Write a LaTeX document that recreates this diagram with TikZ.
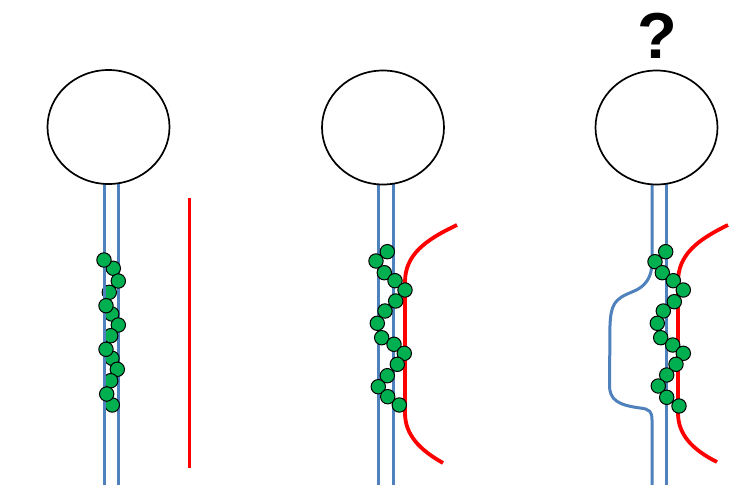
\documentclass[tikz,border=0pt]{standalone}
\usepackage{fontspec}
\setmainfont{Liberation Sans}
\definecolor{axon}{RGB}{79,129,189}
\definecolor{cellred}{RGB}{255,0,0}
\definecolor{beadgreen}{RGB}{0,176,80}
\begin{document}
\begin{tikzpicture}[x=1pt,y=-1pt,
  fiber/.style={draw=axon,line width=3pt},
  glia/.style={draw=cellred,line width=3.8pt},
  bead/.style={fill=beadgreen,draw=black,line width=1pt},
  soma/.style={draw=black,line width=1.7pt,fill=white}]
\useasboundingbox (0,0) rectangle (756,485);
\fill[white] (0,0) rectangle (756,485);

% ---------- panel 1 ----------
\draw[fiber] (118,180) -- (118,490);
\foreach \px/\py in {113.3/268.3,118.3/281,109.3/292.3,111.7/314,118.3/325,110.7/335.7,112/358.3,117.3/369.3,110.7/380.7,112.3/405}
  \draw[bead] (\px,\py) circle [radius=7.2pt];
\draw[fiber] (104,180) -- (104,490);
\foreach \px/\py in {104/260,106/305.7,106/349.3,106.7/394}
  \draw[bead] (\px,\py) circle [radius=7.2pt];
\draw[glia] (189.5,198) -- (189.5,468);
\draw[soma] (108.5,127) ellipse [x radius=61pt, y radius=57pt];

% ---------- panel 2 ----------
\draw[fiber] (378,180) -- (378,490);
\draw[fiber] (393,180) -- (393,490);
\draw[glia] (457,225) .. controls (425,240) and (405,255) .. (405,282) -- (405,413) .. controls (405,435) and (420,450) .. (443,463);
\foreach \px/\py in {387.3/251.7,376/261,384.3/272.7,395/280.7,405/290,395.7/301,385/311,377.3/323.3,381.7/337.7,394/344.3,404.3/353.3,397.3/364.3,387.3/375.7,378.3/386.7,387.7/396.7,399.3/405}
  \draw[bead] (\px,\py) circle [radius=7.2pt];
\draw[soma] (383,127.5) ellipse [x radius=61pt, y radius=57pt];

% ---------- panel 3 ----------
\draw[fiber] (666,180) -- (666,490);
\draw[fiber] (652,180) -- (652,262) .. controls (652,278) and (645,287) .. (632,292)
  .. controls (614,299) and (611,305) .. (610,325) -- (609.5,385)
  .. controls (609.5,400) and (618,405) .. (640,408)
  .. controls (650,409) and (652,412) .. (652,420) -- (652,490);
\draw[glia] (728,225) .. controls (697,240) and (678,255) .. (678,282) -- (678,413) .. controls (678,435) and (693,450) .. (717,462);
\foreach \px/\py in {665.7/251.7,655/261.7,662.3/272.7,673.3/280.7,683.3/290,674.3/301.7,663.3/311,657.3/323.3,660.7/337.7,672.7/345,683.3/353.3,676/364.3,666.7/375,658.3/386,666.7/397.3,679/406}
  \draw[bead] (\px,\py) circle [radius=7.2pt];
\draw[soma] (656.5,127.5) ellipse [x radius=61pt, y radius=57pt];
\node[font=\fontsize{65pt}{65pt}\selectfont\bfseries,inner sep=0pt] (q) at (657,36) {?};
\end{tikzpicture}
\end{document}
